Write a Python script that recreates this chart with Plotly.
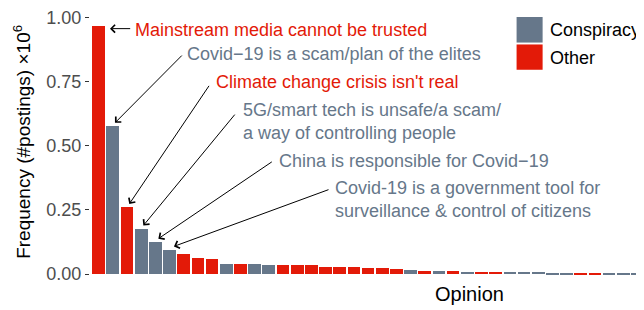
import plotly.graph_objects as go

# ---- data ----
categories = list(range(1, 40))
values = [0.968, 0.578, 0.261, 0.176, 0.126, 0.095, 0.080, 0.062, 0.058, 0.041,
          0.041, 0.041, 0.037, 0.037, 0.037, 0.037, 0.029, 0.029, 0.029, 0.0255,
          0.0255, 0.0216, 0.0178, 0.014, 0.014, 0.013, 0.009, 0.009, 0.009, 0.009,
          0.009, 0.009, 0.005, 0.005, 0.005, 0.005, 0.005, 0.0025, 0.0025]
types = ['Other', 'Conspiracy', 'Other', 'Conspiracy', 'Conspiracy', 'Conspiracy', 'Other', 'Other', 'Other', 'Conspiracy',
         'Other', 'Conspiracy', 'Conspiracy', 'Other', 'Other', 'Other', 'Other', 'Other', 'Other', 'Other',
         'Other', 'Other', 'Conspiracy', 'Other', 'Conspiracy', 'Other', 'Conspiracy', 'Other', 'Other', 'Conspiracy',
         'Conspiracy', 'Conspiracy', 'Conspiracy', 'Conspiracy', 'Other', 'Other', 'Conspiracy', 'Conspiracy', 'Conspiracy']
series_names = ['Conspiracy', 'Other']
yticks = [0.0, 0.25, 0.5, 0.75, 1.0]
ytick_labels = ['0.00', '0.25', '0.50', '0.75', '1.00']

labels = ["Mainstream media cannot be trusted",
          "Covid\u221219 is a scam/plan of the elites",
          "Climate change crisis isn't real",
          "5G/smart tech is unsafe/a scam/<br>a way of controlling people",
          "China is responsible for Covid\u221219",
          "Covid-19 is a government tool for<br>surveillance & control of citizens"]
label_bar = [1, 2, 3, 4, 5, 6]
label_type = ['Other', 'Conspiracy', 'Other', 'Conspiracy', 'Conspiracy', 'Conspiracy']

# ---- styling / placement ----
colors = {'Conspiracy': '#66778A', 'Other': '#E31A08'}
FONT = 'Liberation Sans, Arial, Helvetica, sans-serif'
head_dx = [0.80, 0.15, 0.16, 0.15, 0.21, 0.31]
head_dy = [-0.012, 0.011, 0.012, 0.013, 0.012, 0.013]
tail_x = [3.331, 6.97, 8.853, 10.686, 13.317, 17.315]
tail_y = [0.956, 0.857, 0.739, 0.627, 0.441, 0.331]
text_x = [3.542, 7.252, 9.276, 11.201, 13.74, 17.668]
text_y = [0.952, 0.856, 0.747, 0.594, 0.442, 0.289]

fig = go.Figure()
for name in series_names:
    xs = [c for c, t in zip(categories, types) if t == name]
    ys = [v for v, t in zip(values, types) if t == name]
    fig.add_trace(go.Bar(x=xs, y=ys, name=name, marker=dict(color=colors[name], line=dict(width=0)),
                         showlegend=False))

annotations = []
for i, b in enumerate(label_bar):
    annotations.append(dict(
        x=b + head_dx[i], y=values[b - 1] + head_dy[i], xref='x', yref='y',
        ax=tail_x[i], ay=tail_y[i], axref='x', ayref='y',
        text='', showarrow=True, arrowhead=4, arrowsize=1.5, arrowwidth=1,
        arrowcolor='black', standoff=0, startstandoff=0))
    annotations.append(dict(
        x=text_x[i], y=text_y[i], xref='x', yref='y', text=labels[i],
        showarrow=False, xanchor='left', yanchor='middle', align='left',
        borderpad=0, borderwidth=0,
        font=dict(family=FONT, size=18, color=colors[label_type[i]])))

# axis titles
annotations.append(dict(x=0.685, y=-0.029, xref='paper', yref='paper', text='Opinion',
                        showarrow=False, xanchor='center', yanchor='middle',
                        font=dict(family=FONT, size=20, color='black')))
annotations.append(dict(x=0, y=0.53, xref='paper', yref='paper', xshift=-68,
                        text='Frequency (#postings) \u00d710<sup>6</sup>', textangle=-90,
                        showarrow=False, xanchor='center', yanchor='middle',
                        font=dict(family=FONT, size=19, color='black')))

# legend (drawn manually to match large keys)
shapes = []
legend_y = [(0.989, 0.895), (0.888, 0.795)]
legend_text_y = [0.9416, 0.8394]
for j, name in enumerate(series_names):
    shapes.append(dict(type='rect', xref='paper', yref='paper', x0=0.770, x1=0.817,
                       y0=legend_y[j][1], y1=legend_y[j][0], fillcolor=colors[name],
                       line=dict(width=0)))
    annotations.append(dict(x=0.8267, y=legend_text_y[j], xref='paper', yref='paper', text=name,
                            showarrow=False, xanchor='left', yanchor='middle',
                            font=dict(family=FONT, size=18, color='black')))

# page body has an 8px default margin; the figure is sized so the plot lands on the same pixels
fig.update_layout(
    width=636, height=302,
    margin=dict(l=82, r=0, t=4, b=24),
    paper_bgcolor='white', plot_bgcolor='white',
    barmode='stack', bargap=0.105,
    showlegend=False,
    font=dict(family=FONT),
    annotations=annotations, shapes=shapes,
    xaxis=dict(range=[0.39, 39.46], showticklabels=False, ticks='', showline=False,
               showgrid=False, zeroline=False),
    yaxis=dict(range=[-0.0463, 1.013], tickvals=yticks, ticktext=ytick_labels,
               ticks='outside', ticklen=4, tickwidth=1, tickcolor='#333333',
               ticklabeloverflow='allow',
               tickfont=dict(family=FONT, size=18, color='#4D4D4D'),
               showgrid=False, zeroline=False, showline=False),
)

fig.write_html("out.html")
